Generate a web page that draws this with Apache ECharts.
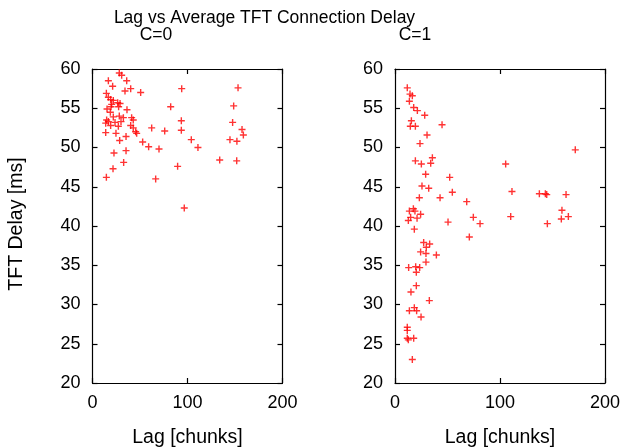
<!DOCTYPE html>
<html>
<head>
<meta charset="utf-8">
<script src="https://cdn.jsdelivr.net/npm/echarts@6/dist/echarts.min.js"></script>
<style>
  html, body { margin: 0; padding: 0; background: #fff; }
  #chart { width: 629px; height: 448px; }
</style>
</head>
<body>
<div id="chart"></div>
<script>
// C=0 panel
const c0Lag = [28.2, 30.7, 16.7, 36, 21.2, 40.2, 34.2, 50.7, 93.9, 153.2, 14.6, 16.7, 19.1, 21.9, 26.5, 29, 20.2, 19.5, 27.5, 15.3,
  36.3, 82.3, 148.6, 18.8, 21.9, 28.2, 32.5, 41.2, 42.9, 14.9, 16.7, 23.7, 30, 13.9, 19.1, 27.2, 40.2, 93.5, 147.5, 42.9,
  45.4, 46.5, 62.3, 76, 93.5, 157.4, 158.8, 13.9, 24.7, 35.3, 28.6, 52.8, 59.1, 70, 104, 111, 144.7, 152, 35.3, 22.6,
  32.8, 89.6, 133.9, 151.8, 21.6, 14.6, 66.5, 96.6];
const c0Delay = [59.5, 59.2, 58.5, 58.5, 57.8, 57.5, 57.2, 57.0, 57.5, 57.6, 56.9, 56.4, 56.1, 56.0, 55.7, 55.6, 55.5, 55.2, 55.2, 54.9,
  54.8, 55.2, 55.3, 54.5, 53.9, 54.0, 53.8, 53.8, 53.5, 53.5, 53.3, 53.2, 53.3, 53.1, 52.8, 52.7, 52.8, 53.4, 53.2, 52.5,
  52.0, 51.8, 52.5, 52.1, 52.2, 52.3, 51.6, 51.9, 51.8, 51.4, 50.9, 50.7, 50.1, 49.8, 51.0, 50.0, 51.0, 50.8, 49.6, 49.3,
  48.1, 47.6, 48.4, 48.3, 47.3, 46.2, 46.0, 42.3];

// C=1 panel
const c1Lag = [11.7, 14.3, 16.5, 13.7, 17.8, 21.3, 28.3, 15.6, 14.6, 19.4, 44.8, 30.5, 23.8, 171.7, 19.4, 35.6, 25.1, 34, 105.4, 29.2,
  52.1, 25.7, 32.1, 111.4, 54.6, 137.5, 143.2, 144.5, 162.9, 23.2, 42.9, 68.3, 17.5, 13.7, 19, 24.4, 14.9, 21, 12.7, 50.5,
  74.6, 81, 110.2, 145.1, 159, 158.4, 165.1, 18.4, 70.8, 27.3, 33, 29.8, 24.4, 29.5, 39.4, 29.5, 13, 19.7, 23.5, 20.3,
  20.3, 15.2, 32.7, 18.4, 13.7, 20.6, 24.8, 11.7, 11.7, 11.7, 12.7, 17.8, 16.5];
const c1Delay = [57.6, 56.8, 56.6, 55.9, 55.1, 54.7, 54.1, 53.4, 52.7, 52.7, 52.9, 51.6, 50.5, 49.7, 48.3, 48.7, 47.9, 48.0, 47.9, 46.6,
  46.2, 45.1, 44.8, 44.4, 44.3, 44.1, 44.1, 44.0, 44.0, 43.6, 43.6, 43.1, 42.2, 41.9, 41.9, 41.5, 41.1, 41.0, 40.7, 40.5,
  41.1, 40.3, 41.2, 40.3, 42.0, 40.9, 41.2, 39.6, 38.6, 37.9, 37.7, 37.3, 36.7, 36.5, 36.3, 35.4, 34.7, 34.8, 34.7, 34.1,
  32.4, 31.6, 30.5, 29.6, 29.2, 29.2, 28.4, 27.1, 26.7, 25.7, 25.5, 25.7, 23.0];

const xTicks = [0, 100, 200];
const yTicks = [20, 25, 30, 35, 40, 45, 50, 55, 60];

const FONT = 'Liberation Sans';
// gnuplot style "+" point
const plusSymbol = 'path://M2.8,0H4.2V2.8H7V4.2H4.2V7H2.8V4.2H0V2.8H2.8Z';

const zip = (xs, ys) => xs.map((x, i) => [x, ys[i]]);

const chart = echarts.init(document.getElementById('chart'), null, { renderer: 'canvas' });

const lineStyle = { color: '#000', width: 1.2 };

function xAxes(gridIndex) {
  return [
    {
      gridIndex, type: 'value', min: xTicks[0], max: xTicks[2], interval: 100, position: 'bottom',
      axisLine: { onZero: false, lineStyle }, axisTick: { inside: true, length: 5, lineStyle },
      axisLabel: { color: '#000', fontFamily: FONT, fontSize: 18, margin: 11 },
      splitLine: { show: false }
    },
    {
      gridIndex, type: 'value', min: xTicks[0], max: xTicks[2], interval: 100, position: 'top',
      axisLine: { onZero: false, lineStyle }, axisTick: { inside: true, length: 5, lineStyle },
      axisLabel: { show: false }, splitLine: { show: false }
    }
  ];
}

function yAxes(gridIndex) {
  return [
    {
      gridIndex, type: 'value', min: yTicks[0], max: yTicks[yTicks.length - 1], interval: 5, position: 'left',
      axisLine: { onZero: false, lineStyle }, axisTick: { inside: true, length: 5, lineStyle },
      axisLabel: { color: '#000', fontFamily: FONT, fontSize: 18, margin: 12 },
      splitLine: { show: false }
    },
    {
      gridIndex, type: 'value', min: yTicks[0], max: yTicks[yTicks.length - 1], interval: 5, position: 'right',
      axisLine: { onZero: false, lineStyle }, axisTick: { inside: true, length: 5, lineStyle },
      axisLabel: { show: false }, splitLine: { show: false }
    }
  ];
}

const textStyle = (size) => ({ fill: '#000', font: size + 'px "' + FONT + '"', textAlign: 'center', textVerticalAlign: 'middle' });

const option = {
  backgroundColor: '#fff',
  animation: false,
  grid: [
    { left: 92.5, top: 69, width: 190, height: 314 },
    { left: 395, top: 69, width: 210, height: 314 }
  ],
  xAxis: [...xAxes(0), ...xAxes(1)],
  yAxis: [...yAxes(0), ...yAxes(1)],
  series: [
    {
      type: 'scatter', xAxisIndex: 0, yAxisIndex: 0, data: zip(c0Lag, c0Delay),
      symbol: plusSymbol, symbolSize: 7, itemStyle: { color: '#ff0000' }
    },
    {
      type: 'scatter', xAxisIndex: 2, yAxisIndex: 2, data: zip(c1Lag, c1Delay),
      symbol: plusSymbol, symbolSize: 7, itemStyle: { color: '#ff0000' }
    }
  ],
  graphic: [
    { type: 'text', x: 264.5, y: 18, style: { text: 'Lag vs Average TFT Connection Delay', ...textStyle(17.5) } },
    { type: 'text', x: 156, y: 35, style: { text: 'C=0', ...textStyle(17.5) } },
    { type: 'text', x: 415, y: 35, style: { text: 'C=1', ...textStyle(17.5) } },
    { type: 'text', x: 187.5, y: 438, style: { text: 'Lag [chunks]', ...textStyle(19.5) } },
    { type: 'text', x: 500, y: 438, style: { text: 'Lag [chunks]', ...textStyle(19.5) } },
    { type: 'text', x: 17, y: 224, rotation: Math.PI / 2, style: { text: 'TFT Delay [ms]', ...textStyle(19.5) } }
  ]
};

chart.setOption(option);
</script>
</body>
</html>
